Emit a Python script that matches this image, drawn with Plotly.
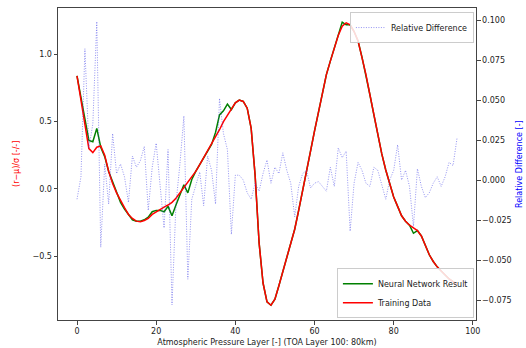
import plotly.graph_objects as go

# Atmospheric pressure layer index (0 = surface side, TOA layer 100 at 80 km)
layers = list(range(97))

# Standardised training profile (r - mu) / sigma
training = [
    0.84, 0.66, 0.48, 0.30, 0.27, 0.31, 0.32, 0.25, 0.13, 0.04,
    -0.03, -0.09, -0.14, -0.19, -0.22, -0.24, -0.245, -0.235, -0.22, -0.19,
    -0.17, -0.15, -0.135, -0.12, -0.10, -0.07, -0.03, 0.01, 0.05, 0.09,
    0.13, 0.18, 0.23, 0.28, 0.33, 0.38, 0.44, 0.50, 0.55, 0.60,
    0.64, 0.66, 0.65, 0.60, 0.45, 0.10, -0.40, -0.70, -0.84, -0.865,
    -0.82, -0.72, -0.62, -0.52, -0.42, -0.30, -0.16, -0.02, 0.13, 0.28,
    0.43, 0.57, 0.72, 0.85, 0.95, 1.05, 1.14, 1.21, 1.235, 1.22,
    1.17, 1.10, 0.98, 0.85, 0.70, 0.55, 0.40, 0.26, 0.14, 0.03,
    -0.06, -0.13, -0.20, -0.24, -0.27, -0.29, -0.31, -0.35, -0.42, -0.49,
    -0.54, -0.58, -0.61, -0.64, -0.67, -0.69, -0.71,
]

# Network prediction of the same profile
network = [
    0.84, 0.67, 0.52, 0.36, 0.35, 0.45, 0.31, 0.24, 0.13, 0.05,
    -0.03, -0.10, -0.15, -0.19, -0.23, -0.24, -0.24, -0.23, -0.21, -0.17,
    -0.16, -0.16, -0.17, -0.13, -0.20, -0.12, -0.04, 0.03, -0.03, 0.07,
    0.13, 0.18, 0.23, 0.28, 0.33, 0.42, 0.55, 0.58, 0.63, 0.59,
    0.64, 0.66, 0.65, 0.60, 0.45, 0.10, -0.40, -0.70, -0.84, -0.865,
    -0.82, -0.72, -0.62, -0.52, -0.42, -0.30, -0.16, -0.02, 0.13, 0.28,
    0.43, 0.57, 0.72, 0.85, 0.95, 1.05, 1.14, 1.24, 1.22, 1.22,
    1.17, 1.10, 0.98, 0.85, 0.70, 0.55, 0.40, 0.26, 0.14, 0.03,
    -0.06, -0.13, -0.20, -0.24, -0.27, -0.33, -0.31, -0.35, -0.42, -0.49,
    -0.54, -0.58, -0.61, -0.64, -0.67, -0.69, -0.71,
]

# Relative difference between prediction and training data
rel_diff = [
    -0.012, 0.002, 0.082, 0.020, 0.035, 0.099, -0.042, 0.010, -0.015, 0.029,
    0.004, 0.010, 0.002, -0.014, 0.015, 0.008, 0.012, 0.021, -0.019, 0.008,
    0.023, -0.006, -0.030, 0.019, -0.078, -0.015, 0.010, 0.040, -0.062, -0.012,
    -0.004, 0.005, -0.016, 0.015, 0.006, -0.015, 0.051, 0.029, 0.019, -0.034,
    0.003, 0.003, 0.000, -0.008, -0.012, -0.002, -0.007, 0.004, 0.0125, -0.002,
    0.008, 0.004, 0.017, 0.006, -0.002, -0.023, -0.004, 0.004, 0.006, -0.005,
    -0.002, -0.001, -0.004, -0.007, 0.008, -0.004, 0.020, 0.014, 0.018, -0.032,
    -0.002, 0.011, 0.006, -0.002, -0.004, 0.008, 0.006, -0.003, -0.012, 0.000,
    0.006, 0.022, 0.000, 0.006, -0.004, -0.029, 0.007, -0.004, -0.011, -0.008,
    -0.002, 0.002, -0.004, 0.002, 0.011, 0.009, 0.026,
]

x_ticks = [0, 20, 40, 60, 80, 100]
y_ticks = [-0.5, 0.0, 0.5, 1.0]
y2_ticks = [-0.075, -0.050, -0.025, 0.000, 0.025, 0.050, 0.075, 0.100]

FONT = "DejaVu Sans"
AXIS_COLOR = "#444"

fig = go.Figure()

fig.add_trace(go.Scatter(
    x=layers, y=network, mode="lines", name="Neural Network Result",
    line=dict(color="green", width=1.5), legend="legend",
))
fig.add_trace(go.Scatter(
    x=layers, y=training, mode="lines", name="Training Data",
    line=dict(color="red", width=1.5), legend="legend",
))
fig.add_trace(go.Scatter(
    x=layers, y=rel_diff, mode="lines", name="Relative Difference",
    line=dict(color="rgba(60,60,230,0.55)", width=1, dash="1px,1.5px"),
    yaxis="y2", legend="legend2",
))

tick_font = dict(family=FONT, size=8, color="#222")
axis_common = dict(
    showgrid=False, zeroline=False, showline=True, linecolor=AXIS_COLOR,
    linewidth=1, ticks="outside", ticklen=3.5, tickwidth=1,
    tickcolor=AXIS_COLOR, tickfont=tick_font,
)

fig.update_layout(
    width=526, height=348,
    margin=dict(l=58, r=50, t=8, b=28, autoexpand=False),
    paper_bgcolor="white", plot_bgcolor="white",
    font=dict(family=FONT, size=8, color="#222"),
    xaxis=dict(
        range=[-4.8, 100.8], tickvals=x_ticks, mirror=True,
        title=dict(text="Atmospheric Pressure Layer [-] (TOA Layer 100: 80km)",
                   font=dict(family=FONT, size=8, color="#222"), standoff=4),
        **axis_common,
    ),
    yaxis=dict(
        range=[-0.975, 1.345], tickvals=y_ticks, tickformat=".1f",
        **axis_common,
    ),
    yaxis2=dict(
        range=[-0.0875, 0.1075], tickvals=y2_ticks, tickformat=".3f",
        overlaying="y", side="right", **axis_common,
    ),
    legend=dict(
        x=0.995, y=0.006, xanchor="right", yanchor="bottom",
        bgcolor="rgba(255,255,255,0.85)", bordercolor="#ccc", borderwidth=1,
        font=dict(family=FONT, size=8, color="#222"), itemwidth=30,
        tracegroupgap=0,
    ),
    legend2=dict(
        x=0.995, y=0.987, xanchor="right", yanchor="top",
        bgcolor="rgba(255,255,255,0.85)", bordercolor="#ccc", borderwidth=1,
        font=dict(family=FONT, size=8, color="#222"), itemwidth=30,
    ),
    annotations=[
        dict(
            text="(r−μ)/σ [-/-]", textangle=-90,
            xref="paper", yref="paper", x=-0.1005, y=0.5,
            xanchor="center", yanchor="middle", showarrow=False,
            font=dict(family=FONT, size=8, color="red"),
        ),
        dict(
            text="Relative Difference [-]", textangle=-90,
            xref="paper", yref="paper", x=1.103, y=0.5,
            xanchor="center", yanchor="middle", showarrow=False,
            font=dict(family=FONT, size=8, color="blue"),
        ),
    ],
)

fig.write_html("out.html")
